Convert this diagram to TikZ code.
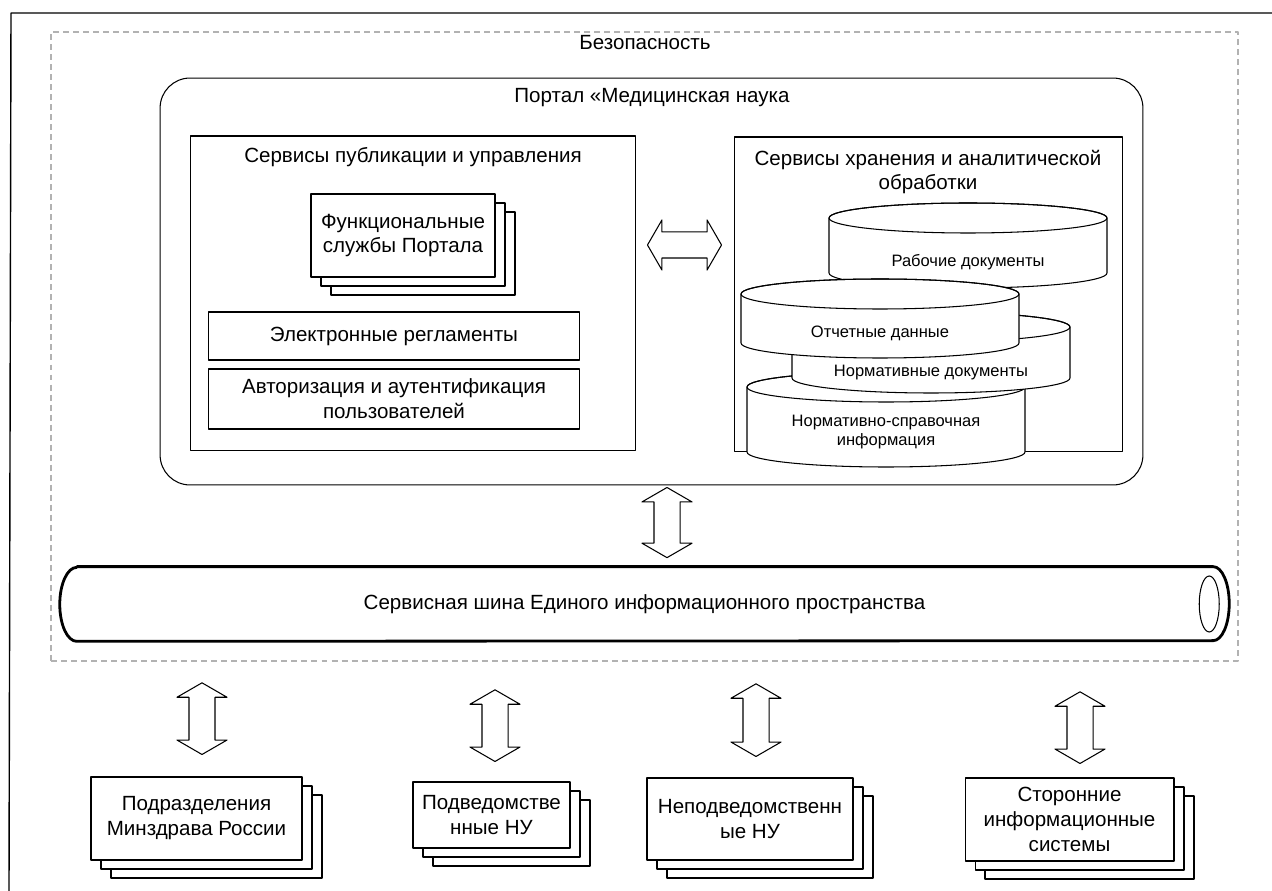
\documentclass[tikz,border=0pt]{standalone}
\usepackage{fontspec}
\setmainfont{Liberation Sans}
\usetikzlibrary{calc, positioning, shapes.arrows, shadows}

\newcommand{\txtfont}{\fontsize{11.7}{14.2}\selectfont}
\newcommand{\smallfont}{\fontsize{9.4}{11.3}\selectfont}
% hollow two-headed arrow between two points
\newcommand{\fatarrow}[3]{%
  \path let \p1=#2, \p2=#3, \n1={veclen(\x2-\x1,\y2-\y1)} in
    (\p1) -- (\p2) node[fatarrow, midway, sloped, minimum height=\n1] (#1) {};}

\tikzset{
  txt/.style={inner sep=0pt, align=center, font=\txtfont},
  box/.style={draw, fill=white, line width=0.6pt, inner sep=0pt, align=center, font=\txtfont},
  stackbox/.style={
    copy shadow={shadow xshift=0.4cm, shadow yshift=-0.36cm, draw, fill=white, line width=0.6pt},
    copy shadow={shadow xshift=0.2cm, shadow yshift=-0.18cm, draw, fill=white, line width=0.6pt}},
  zone/.style={draw=gray!60, line width=1pt, dash pattern=on 3.4pt off 2.3pt},
  disktxt/.style={inner sep=0pt, align=center, font=\smallfont},
  fatarrow/.style={double arrow, draw, fill=white, line width=0.6pt, inner xsep=0pt,
    inner ysep=0.25cm, double arrow head extend=0.24cm, double arrow tip angle=120},
}

\begin{document}
\begin{tikzpicture}[x=0.02cm, y=-0.02cm, line join=round]
    \useasboundingbox (0,0) rectangle (1272,891);
    % page frame
    \draw[line width=0.8pt] (1272,13) -- (11,13) -- (9,891);
    % security zone
    \node[zone, minimum width=23.74cm, minimum height=12.58cm] (sec) at (644.5,346.5) {};
    \node[txt] (sectitle) at (645,43) {Безопасность};
    % portal
    \node[draw, line width=0.6pt, rounded corners=0.6cm, minimum width=19.66cm, minimum height=8.14cm] (portal) at (651.5,281.5) {};
    \node[txt] (portaltitle) at (652,98) {Портал «Медицинская наука};
    % publication services
    \node[box, minimum width=8.92cm, minimum height=6.3cm] (pub) at (413,293.5) {};
    \node[txt] (pubtitle) at (413,157) {Сервисы публикации и управления};
    \node[box, stackbox, minimum width=3.68cm, minimum height=1.66cm] (func) at (403,235.5) {Функциональные\\службы Портала};
    \node[box, minimum width=7.44cm, minimum height=0.96cm] (regl) at (394,336) {Электронные регламенты};
    \node[box, minimum width=7.44cm, minimum height=1.2cm] (auth) at (394,399) {Авторизация и аутентификация\\пользователей};
    % storage services
    \node[box, minimum width=7.78cm, minimum height=6.3cm] (stor) at (928.5,294.5) {};
    \node[txt] (stortitle) at (928,172) {Сервисы хранения и аналитической\\обработки};
    \foreach \n/\cx/\yt/\yb/\ty/\txt in {1/968/218/273/262/{Рабочие документы},
        4/886/387/452/432/{Нормативно-справочная\\информация},
        3/931/327/378/373/{Нормативные документы},
        2/880/294/343/333/{Отчетные данные}} {
        \filldraw[fill=white, line width=0.6pt] (\cx-139,\yt) -- (\cx-139,\yb)
            arc[start angle=180, end angle=0, x radius=139, y radius=15] -- (\cx+139,\yt)
            arc[start angle=0, end angle=-180, x radius=139, y radius=15] -- cycle;
        \draw[line width=0.6pt] (\cx,\yt) ellipse[x radius=139, y radius=15];
        \node[disktxt] (disk\n) at (\cx,\ty) {\txt};
    }
    \fatarrow{pubstor}{($(pub.east)+(11,-48.5)$)}{($(stor.west)+(-12,-49.5)$)}
    % service bus
    \node[txt, minimum width=23.38cm, minimum height=1.48cm] (bus) at (644.5,604) {Сервисная шина Единого информационного пространства};
    \draw[line width=1.6pt] ($(bus.north west)+(17,0)$) -- ($(bus.north east)+(-16,0)$)
        arc[start angle=-90, end angle=90, x radius=16, y radius=37]
        -- ($(bus.south west)+(17,0)$)
        arc[start angle=90, end angle=270, x radius=17, y radius=37] -- cycle;
    \draw[line width=0.6pt] ($(bus.east)+(-20,0)$) ellipse[x radius=10, y radius=28];
    \fatarrow{portalbus}{($(portal.south)+(15.5,2)$)}{($(bus.north)+(22.5,-9)$)}
    % outer participants
    \node[box, stackbox, minimum width=4.22cm, minimum height=1.66cm] (mzr) at (196.5,818.5) {Подразделения\\Минздрава России};
    \node[box, stackbox, minimum width=3.14cm, minimum height=1.32cm] (podv) at (491.5,815) {Подведомстве\\нные НУ};
    \node[box, stackbox, minimum width=4.12cm, minimum height=1.64cm] (nepodv) at (750,819) {Неподведомственн\\ые НУ};
    \node[box, stackbox, minimum width=4.18cm, minimum height=1.66cm] (ext) at (1069.5,819.5) {Сторонние\\информационные\\системы};
    \foreach \b/\dx/\ta/\tb in {mzr/5.5/21/22, podv/3.5/28/20, nepodv/6/22/21, ext/10.5/30/14} {
        \fatarrow{a\b}{($(\b.north |- sec.south)+(\dx,\ta)$)}{($(\b.north)+(\dx,-\tb)$)}
    }
\end{tikzpicture}
\end{document}
